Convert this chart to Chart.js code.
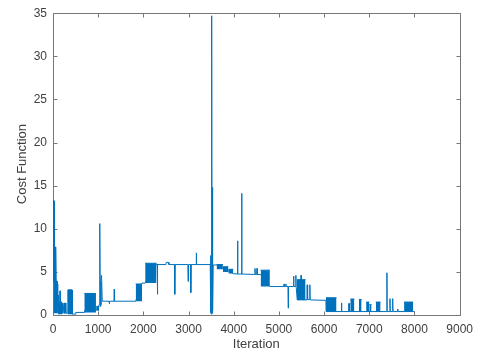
<!DOCTYPE html>
<html>
<head>
<meta charset="utf-8">
<script src="https://cdn.jsdelivr.net/npm/chart.js@4.4.0/dist/chart.umd.min.js"></script>
<style>
html, body { margin: 0; padding: 0; background: #fff; }
</style>
</head>
<body>
<canvas id="myChart" width="480" height="356"></canvas>
<script>
// trace of the cost function (iteration, value)
const iterations = [12, 18, 24, 30, 38, 45, 55, 65, 75, 90, 105, 120, 135, 150, 155, 162, 200, 212, 222, 245, 255, 275, 285, 320, 328, 425, 430, 500, 505, 690, 700, 950, 960, 1005, 1020, 1030, 1040, 1048, 1060, 1075, 1090, 1240, 1245, 1255, 1350, 1355, 1362, 1830, 1970, 2040, 2290, 2305, 2310, 2318, 2500, 2505, 2560, 2565, 2690, 2695, 2703, 2985, 2990, 2998, 3045, 3050, 3058, 3165, 3170, 3178, 3480, 3488, 3495, 3505, 3512, 3520, 3528, 3536, 3545, 3620, 3990, 4080, 4085, 4092, 4170, 4175, 4182, 4465, 4470, 4477, 4510, 4515, 4522, 4595, 4800, 5110, 5115, 5122, 5150, 5155, 5162, 5200, 5205, 5212, 5320, 5325, 5332, 5370, 5375, 5382, 5400, 5405, 5485, 5490, 5497, 5620, 5625, 5635, 5680, 5685, 5692, 6040, 6045, 6380, 6385, 6392, 7385, 7390, 7397, 7455, 7458, 7465, 7515, 7518, 7525, 7625, 7630, 7637, 8000];
const costValues = [13.3, 3.9, 13.2, 2.0, 4.0, 7.9, 1.5, 7.8, 2.5, 3.6, 1.0, 2.3, 0.4, 1.2, 2.8, 0.3, 0.2, 1.4, 0.2, 1.4, 0.2, 1.4, 0.2, 0.2, 2.9, 2.9, 0.1, 0.1, 0.3, 0.3, 0.5, 0.6, 0.7, 0.7, 1.2, 4.0, 10.6, 1.0, 4.0, 4.6, 1.6, 1.6, 1.3, 1.6, 1.6, 3.0, 1.6, 1.6, 3.7, 3.7, 5.9, 5.9, 2.4, 5.85, 5.85, 6.1, 6.1, 5.85, 5.85, 2.4, 5.85, 5.85, 3.9, 5.85, 5.85, 2.6, 5.85, 5.85, 7.2, 5.85, 5.85, 6.9, 0.3, 0.1, 34.7, 0.2, 14.8, 0.5, 5.8, 5.8, 4.8, 4.75, 8.6, 4.75, 4.75, 14.1, 4.75, 4.7, 5.4, 4.7, 4.7, 5.4, 4.7, 4.7, 3.3, 3.3, 3.6, 3.3, 3.3, 3.6, 3.3, 3.3, 0.8, 3.3, 3.3, 4.5, 3.3, 3.3, 4.6, 3.3, 3.3, 1.75, 1.75, 4.6, 1.75, 1.75, 3.5, 1.8, 1.8, 3.5, 1.75, 1.7, 0.4, 0.4, 1.4, 0.4, 0.4, 4.9, 0.4, 0.4, 1.9, 0.4, 0.4, 1.9, 0.4, 0.4, 0.7, 0.4, 0.4];

// dense oscillating stretches, drawn as solid bands
const blockStart = [12, 110, 330, 693, 955, 1045, 1830, 2040, 3620, 3760, 3880, 4595, 5400, 6040, 6530, 6580, 6770, 6930, 7000, 7145, 7770];
const blockEnd   = [110, 200, 425, 951, 1020, 1080, 1970, 2290, 3760, 3880, 3990, 4800, 5590, 6275, 6580, 6670, 6830, 7000, 7050, 7250, 7970];
const blockLow   = [0.2, 0.1, 0.1, 0.3, 0.5, 1.2, 1.6, 3.7, 5.3, 5.0, 4.8, 3.3, 1.75, 0.4, 0.4, 0.4, 0.4, 0.4, 0.4, 0.4, 0.4];
const blockHigh  = [3.9, 1.5, 2.9, 2.5, 1.0, 3.8, 3.6, 6.0, 5.85, 5.6, 5.3, 5.2, 4.1, 2.0, 1.3, 1.85, 1.8, 1.5, 1.2, 1.5, 1.5];

const xTicks = [0, 1000, 2000, 3000, 4000, 5000, 6000, 7000, 8000, 9000];
const yTicks = [0, 5, 10, 15, 20, 25, 30, 35];

const lineColor = '#0072BD';
const axisColor = '#777777';
const textColor = '#404040';
const fontFamily = '"Liberation Sans", Arial, sans-serif';

const datasets = [{
	data: iterations.map((x, i) => ({ x: x, y: costValues[i] })),
	borderColor: lineColor,
	borderWidth: 1,
	pointRadius: 0,
	tension: 0,
	fill: false
}];
blockStart.forEach((s, i) => {
	datasets.push({
		data: [{ x: s, y: blockHigh[i] }, { x: blockEnd[i], y: blockHigh[i] }],
		borderColor: lineColor,
		borderWidth: 1,
		backgroundColor: lineColor,
		pointRadius: 0,
		fill: { value: blockLow[i] }
	});
});

// MATLAB style box with inward ticks on all four sides
const boxTicks = {
	id: 'boxTicks',
	beforeDatasetsDraw(chart) {
		const c = chart.ctx, a = chart.chartArea;
		const xs = chart.scales.x, ys = chart.scales.y;
		const L = Math.round(a.left) + 0.5, R = Math.round(a.right) + 0.5;
		const T = Math.round(a.top) + 0.5, B = Math.round(a.bottom) + 0.5;
		c.save();
		c.strokeStyle = axisColor;
		c.lineWidth = 1;
		c.beginPath();
		c.rect(L, T, R - L, B - T);
		xTicks.forEach(v => {
			const p = Math.round(xs.getPixelForValue(v)) + 0.5;
			c.moveTo(p, B); c.lineTo(p, B - 4);
			c.moveTo(p, T); c.lineTo(p, T + 4);
		});
		yTicks.forEach(v => {
			const p = Math.round(ys.getPixelForValue(v)) + 0.5;
			c.moveTo(L, p); c.lineTo(L + 4, p);
			c.moveTo(R, p); c.lineTo(R - 4, p);
		});
		c.stroke();
		c.restore();
	}
};

var ctx = document.getElementById('myChart').getContext('2d');
var chart = new Chart(ctx, {
	type: 'line',
	data: { datasets: datasets },
	plugins: [boxTicks],
	options: {
		responsive: false,
		animation: false,
		layout: { padding: { top: 11, right: 20, left: 0, bottom: 0 } },
		plugins: { legend: { display: false }, tooltip: { enabled: false } },
		scales: {
			x: {
				type: 'linear',
				min: 0,
				max: 9000,
				grid: { display: false, drawTicks: false },
				border: { display: false },
				afterBuildTicks: s => { s.ticks = xTicks.map(v => ({ value: v })); },
				afterFit: s => { s.height = 41; },
				ticks: {
					padding: 7,
					color: textColor,
					font: { family: fontFamily, size: 12 },
					maxRotation: 0,
					callback: v => String(v)
				},
				title: {
					display: true,
					text: 'Iteration',
					color: textColor,
					font: { family: fontFamily, size: 13 },
					padding: { top: 0, bottom: 4 }
				}
			},
			y: {
				min: 0,
				max: 35,
				grid: { display: false, drawTicks: false },
				border: { display: false },
				afterBuildTicks: s => { s.ticks = yTicks.map(v => ({ value: v })); },
				afterFit: s => { s.width = 53; },
				ticks: {
					padding: 6,
					color: textColor,
					font: { family: fontFamily, size: 12 },
					callback: v => String(v)
				},
				title: {
					display: true,
					text: 'Cost Function',
					color: textColor,
					font: { family: fontFamily, size: 13 },
					padding: { top: 15, bottom: 0 }
				}
			}
		}
	}
});
</script>
</body>
</html>
